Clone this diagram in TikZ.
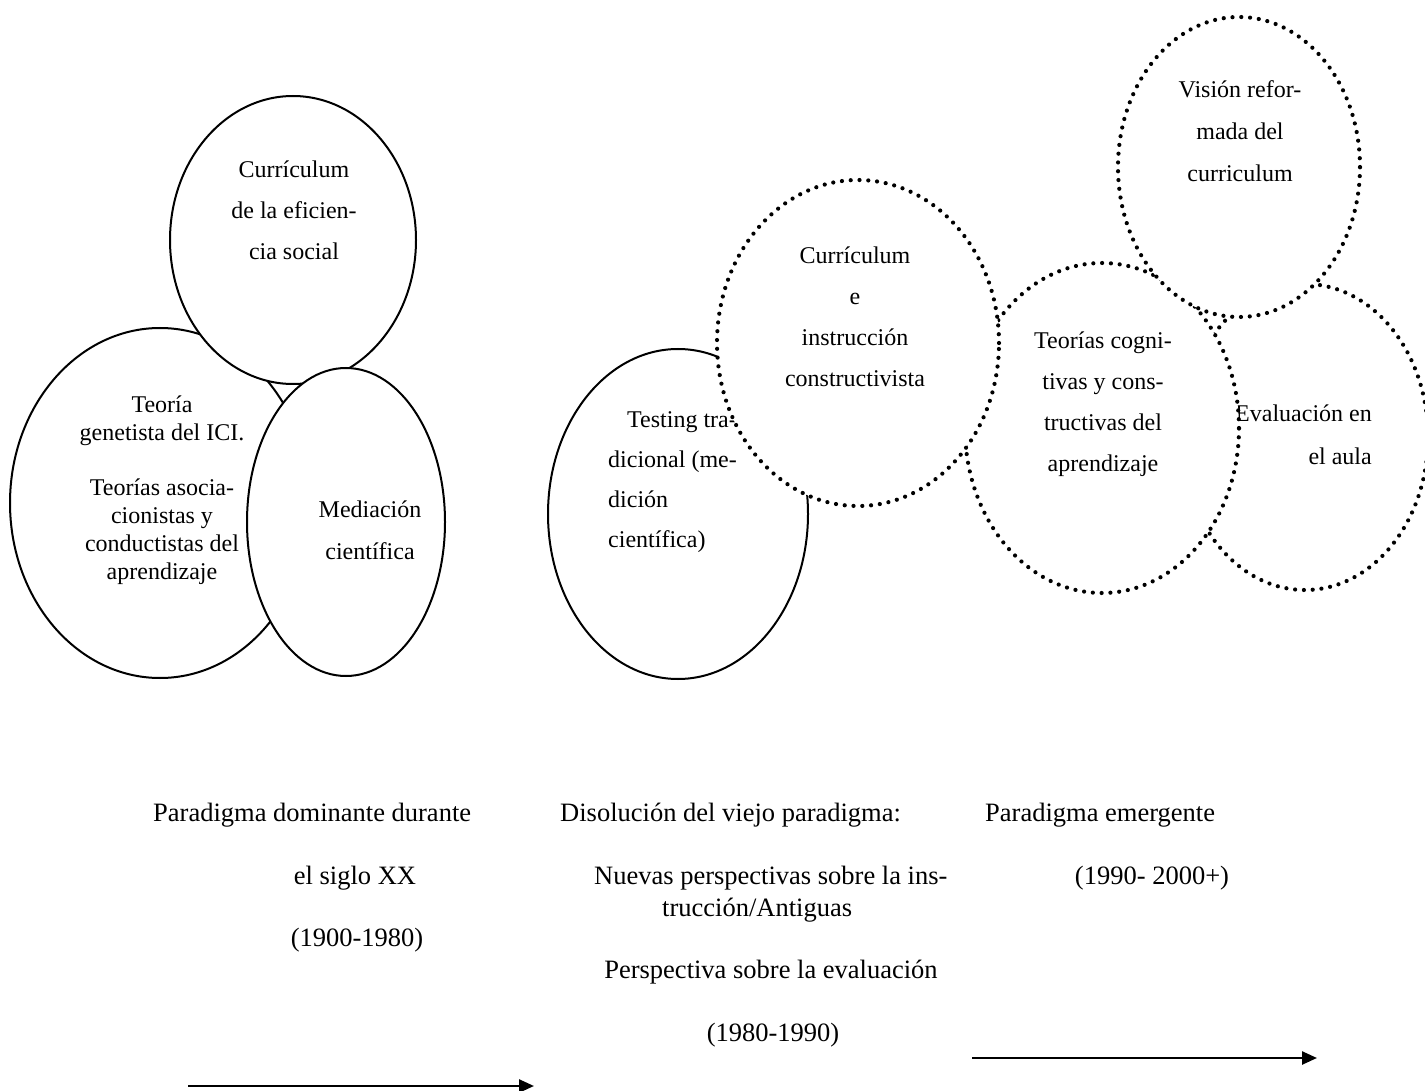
\documentclass[tikz,border=0pt]{standalone}
\usepackage{fontspec}
\setmainfont{Liberation Serif}
\usetikzlibrary{shapes.geometric,arrows.meta}
\tikzset{
  solidell/.style={ellipse, draw=black, fill=white, line width=2pt, inner sep=0pt},
  dotell/.style={ellipse, draw=black, fill=white, line width=4.2pt, line cap=round,
                 dash pattern=on 0pt off 8.8pt, inner sep=0pt},
  ell/.style={align=center, font=\fontsize{24}{41}\selectfont, inner sep=0pt},
  lbl/.style={font=\fontsize{26.5}{32}\selectfont, inner sep=0pt},
  timeline/.style={line width=2.5pt, -{Triangle[length=15pt,width=13pt]}}
}
\begin{document}
\begin{tikzpicture}[x=1pt,y=-1pt]
\useasboundingbox (0,0) rectangle (1425,1091);
\fill[white] (0,0) rectangle (1425,1091);

% left group
\node[solidell, minimum width=300pt, minimum height=350pt] (teoria) at (160,503) {};
\node[ell, font=\fontsize{24}{28}\selectfont] (teoriat) at (162,490)
  {Teoría\\genetista del ICI.\\[27pt]Teorías asocia-\\cionistas y\\conductistas del\\aprendizaje};
\node[solidell, minimum width=246pt, minimum height=288pt] (curef) at (293,240) {};
\node[ell] (cureft) at (294,210) {Currículum\\de la eficien-\\cia social};
\node[solidell, minimum width=198pt, minimum height=308pt] (medic) at (346,522) {};
\node[ell, font=\fontsize{24}{42}\selectfont] (medict) at (370,530) {Mediación\\científica};

% middle group
\node[solidell, minimum width=260pt, minimum height=330pt] (testing) at (678,514) {};
\node[ell, align=left, font=\fontsize{24}{40}\selectfont, anchor=west] (testingt) at (608,482)
  {\hspace*{19pt}Testing tra-\\dicional (me-\\dición\\científica)};

% right group
\node[dotell, minimum width=246pt, minimum height=306pt] (evalu) at (1305,437) {};
\node[ell, align=right, font=\fontsize{24}{43}\selectfont, anchor=east] (evalut) at (1372,434.5)
  {Evaluación en\\el aula};
\node[dotell, minimum width=274pt, minimum height=330pt] (cognit) at (1102,428) {};
\node[ell] (cognitt) at (1103,404) {Teorías cogni-\\tivas y cons-\\tructivas del\\aprendizaje};
\node[dotell, minimum width=242pt, minimum height=300pt] (vision) at (1239,167) {};
\node[ell, font=\fontsize{24}{42}\selectfont] (visiont) at (1240,131) {Visión refor-\\mada del\\curriculum};

\node[dotell, minimum width=282pt, minimum height=326pt] (cuins) at (858,343) {};
\node[ell] (cuinst) at (855,317) {Currículum\\e\\instrucción\\constructivista};

% bottom labels
\node[lbl, anchor=west] (b1) at (153,815) {Paradigma dominante durante};
\node[lbl] (b2) at (355,878) {el siglo XX};
\node[lbl] (b3) at (357,940) {(1900-1980)};

\node[lbl, anchor=west] (m1) at (560,815) {Disolución del viejo paradigma:};
\node[lbl, anchor=west, align=left] (m2) at (594,894)
  {Nuevas perspectivas sobre la ins-\\\hspace*{68pt}trucción/Antiguas};
\node[lbl] (m3) at (771,972) {Perspectiva sobre la evaluación};
\node[lbl] (m4) at (773,1035) {(1980-1990)};

\node[lbl, anchor=west] (r1) at (985,815) {Paradigma emergente};
\node[lbl] (r2) at (1152,878) {(1990- 2000+)};

% arrows
\coordinate (a1s) at (188,1086);
\coordinate (a1e) at (534,1086);
\coordinate (a2s) at (972,1058);
\coordinate (a2e) at (1317,1058);
\draw[timeline] (a1s) -- (a1e);
\draw[timeline] (a2s) -- (a2e);
\end{tikzpicture}
\end{document}
